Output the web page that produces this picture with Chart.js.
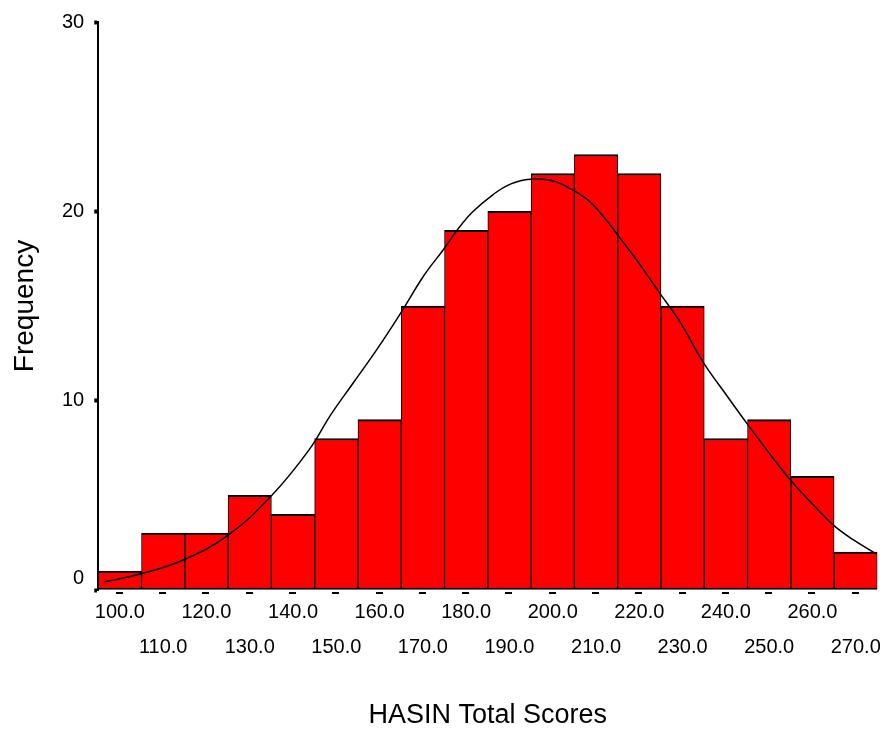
<!DOCTYPE html>
<html>
<head>
<meta charset="utf-8">
<script src="https://cdn.jsdelivr.net/npm/chart.js@4.4.1/dist/chart.umd.min.js"></script>
<style>
  html, body { margin: 0; padding: 0; background: #fff; }
  #wrap { width: 886px; height: 729px; }
</style>
</head>
<body>
<div id="wrap"><canvas id="chart"></canvas></div>
<script>
const FONT = 'Arial, "Liberation Sans", sans-serif';
const BAR_RED = '#FF0000';

// bin midpoints and counts
const binCenters = [100, 110, 120, 130, 140, 150, 160, 170, 180, 190, 200, 210, 220, 230, 240, 250, 260, 270];
const frequencies = [1, 3, 3, 5, 4, 8, 9, 15, 19, 20, 22, 23, 22, 15, 8, 9, 6, 2];

// normal curve
const curveX = [96.3, 104.9, 114.1, 124.7, 134.9, 143.7, 148.7, 154.1, 159.5, 164.8, 170.2, 174.8, 177.9, 181.4, 186.3, 190.2, 194.8,
  200.2, 204.8, 208.6, 212.5, 215.5, 220.1, 224.8, 229.4, 234.7, 240.1, 245.1, 250.9, 255.5, 261.6, 265.1, 269.3, 274.7];
const curveY = [0.42, 0.86, 1.53, 2.84, 4.95, 7.4, 9.25, 11.0, 12.75, 14.6, 16.6, 18.0, 19.0, 19.95, 20.9, 21.44, 21.7,
  21.6, 21.1, 20.5, 19.5, 18.6, 17.2, 15.65, 14.16, 12.05, 10.3, 8.72, 6.96, 5.65, 4.16, 3.37, 2.67, 1.91];

const yTicks = [0, 10, 20, 30];

// little dashes under each bin, like the SPSS output
const dashTicks = {
  id: 'dashTicks',
  afterDatasetsDraw(chart) {
    const ctx = chart.ctx;
    const xs = chart.scales.x;
    const bottom = chart.chartArea.bottom;
    ctx.save();
    ctx.fillStyle = '#000';
    xs.ticks.forEach((t, i) => {
      const px = xs.getPixelForTick(i);
      ctx.fillRect(Math.round(px - 4), bottom + 2, 7, 2);
    });
    ctx.restore();
  }
};

const ctx = document.getElementById('chart');
new Chart(ctx, {
  type: 'bar',
  data: {
    datasets: [
      {
        type: 'line',
        data: curveX.map((x, i) => ({ x: x, y: curveY[i] })),
        borderColor: '#000',
        borderWidth: 1.5,
        pointRadius: 0,
        tension: 0.4,
        fill: false,
        order: 0,
      },
      {
        type: 'bar',
        data: binCenters.map((x, i) => ({ x: x, y: frequencies[i] })),
        backgroundColor: BAR_RED,
        borderColor: '#000',
        borderWidth: { top: 2, bottom: 2, left: 1, right: 1 },
        borderSkipped: false,
        barPercentage: 1,
        categoryPercentage: 1,
        order: 1,
      },
    ],
  },
  options: {
    responsive: true,
    maintainAspectRatio: false,
    animation: false,
    layout: { padding: { top: 20, right: 8, bottom: 0, left: 0 } },
    plugins: {
      legend: { display: false },
      tooltip: { enabled: false },
    },
    scales: {
      x: {
        type: 'linear',
        min: 95,
        max: 275,
        offset: false,
        afterBuildTicks: (scale) => {
          scale.ticks = binCenters.map(v => ({ value: v }));
        },
        grid: { display: false, drawTicks: false },
        border: { display: false },
        ticks: {
          autoSkip: false,
          maxRotation: 0,
          minRotation: 0,
          padding: 5,
          color: '#000',
          font: { family: FONT, size: 20, lineHeight: 1.75 },
          callback: (value, index) => {
            const s = Number(value).toFixed(1);
            return index % 2 === 0 ? [s] : ['', s];
          },
        },
        title: {
          display: true,
          text: 'HASIN Total Scores',
          color: '#000',
          font: { family: FONT, size: 27, lineHeight: 1 },
          padding: { top: 32, bottom: 0 },
        },
      },
      y: {
        min: 0,
        max: 30,
        afterBuildTicks: (scale) => {
          scale.ticks = yTicks.map(v => ({ value: v }));
        },
        grid: {
          drawOnChartArea: false,
          drawTicks: true,
          tickLength: 4,
          tickWidth: 4,
          tickColor: '#000',
        },
        border: { display: true, color: '#000', width: 2 },
        ticks: {
          padding: 10,
          color: '#000',
          font: { family: FONT, size: 20, lineHeight: 1.2 },
          callback: (value) => value === 0 ? ['0', ''] : String(value),
        },
        title: {
          display: true,
          text: 'Frequency',
          color: '#000',
          font: { family: FONT, size: 28, lineHeight: 1 },
          padding: { top: 11, bottom: 13 },
        },
      },
    },
  },
  plugins: [dashTicks],
});
</script>
</body>
</html>
